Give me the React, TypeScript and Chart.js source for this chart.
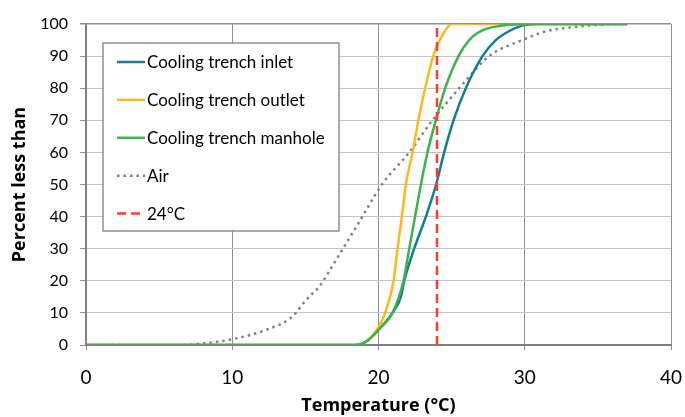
import React, { useEffect, useRef } from "react";
import { Chart, registerables } from "chart.js";
Chart.register(...registerables);

// ---- data (temperature °C vs cumulative percent) ----
const inletT = [0, 18.4, 19.14, 20.05, 20.96, 21.53, 21.76, 22.44, 23.24, 23.94, 24.49, 25.13, 25.97, 27.11, 28.02, 28.7, 29.84, 30.76, 37];
const inletP = [0, 0, 1, 5, 10, 15, 20, 30, 40, 50, 60, 70, 80, 90, 95, 97.2, 99.5, 100, 100];

const outletT = [0, 18.6, 19.14, 19.93, 20.46, 21.03, 21.3, 21.6, 21.87, 22.33, 22.73, 23.19, 23.74, 24.2, 24.72, 25.02, 37];
const outletP = [0, 0, 1, 5, 10, 20, 30, 40, 50, 60, 70, 80, 90, 95, 99, 100, 100];

const manholeT = [0, 18.5, 19.14, 20.05, 20.96, 21.71, 22.1, 22.5, 22.9, 23.35, 23.92, 24.56, 25.47, 26.2, 27.1, 28.46, 30.07, 37];
const manholeP = [0, 0, 1, 5, 10, 20, 30, 40, 50, 60, 70, 80, 90, 95, 98, 99.5, 100, 100];

const airT = [0, 6.6, 8, 10, 12.3, 14.1, 15.04, 16.0, 16.7, 17.3, 17.9, 18.68, 20.23, 22.1, 23.69, 25.52, 27.57, 29.84, 31.44, 33.7, 36.5, 37];
const airP = [0, 0, 0.5, 1.8, 4.7, 8.8, 14, 18.5, 23.5, 28, 32.5, 38.3, 50, 60, 70, 80, 90, 95, 97.7, 99.2, 100, 100];

const refT = [24, 24];
const refP = [0, 100];

const seriesLabels = ["Cooling trench inlet", "Cooling trench outlet", "Cooling trench manhole", "Air", "24°C"];
const xTickValues = [0, 10, 20, 30, 40];
const yTickValues = [0, 10, 20, 30, 40, 50, 60, 70, 80, 90, 100];

const FONT = "Lato, 'Liberation Sans', sans-serif";
const TITLE_FONT = "'Open Sans', 'Liberation Sans', sans-serif";

const pts = (xs: number[], ys: number[]) => xs.map((x, i) => ({ x, y: ys[i] }));

const legendPlugin = {
  id: "insideLegend",
  afterDraw(chart: any) {
    const ctx = chart.ctx as CanvasRenderingContext2D;
    const a = chart.chartArea;
    const bx = a.left + 17, by = a.top + 19, bw = 236, bh = 188;
    ctx.save();
    ctx.fillStyle = "#ffffff";
    ctx.fillRect(bx, by, bw, bh);
    ctx.strokeStyle = "#7f7f7f";
    ctx.lineWidth = 1.3;
    ctx.strokeRect(bx, by, bw, bh);
    chart.data.datasets.forEach((ds: any, i: number) => {
      const cy = by + 19 + i * 37.9;
      ctx.beginPath();
      ctx.setLineDash(ds.borderDash || []);
      ctx.strokeStyle = ds.borderColor;
      ctx.lineWidth = ds.borderWidth;
      ctx.moveTo(bx + 14, cy);
      ctx.lineTo(bx + 42, cy);
      ctx.stroke();
      ctx.setLineDash([]);
      ctx.fillStyle = "#000000";
      ctx.font = `17px ${FONT}`;
      ctx.textBaseline = "middle";
      ctx.textAlign = "left";
      ctx.fillText(ds.label, bx + 44, cy + 1);
    });
    ctx.restore();
  },
};

export default function App() {
  const ref = useRef<HTMLCanvasElement | null>(null);
  useEffect(() => {
    if (!ref.current) return;
    const common = { pointRadius: 0, pointHoverRadius: 0, fill: false, showLine: true };
    const chart = new Chart(ref.current, {
      type: "scatter",
      data: {
        datasets: [
          { ...common, label: seriesLabels[0], data: pts(inletT, inletP), borderColor: "#10808f", borderWidth: 2.5, cubicInterpolationMode: "monotone", order: 3 },
          { ...common, label: seriesLabels[1], data: pts(outletT, outletP), borderColor: "#ffb81c", borderWidth: 2.5, cubicInterpolationMode: "monotone", order: 2 },
          { ...common, label: seriesLabels[2], data: pts(manholeT, manholeP), borderColor: "#3cb44b", borderWidth: 2.5, cubicInterpolationMode: "monotone", order: 1 },
          { ...common, label: seriesLabels[3], data: pts(airT, airP), borderColor: "#808080", borderWidth: 2.5, borderDash: [2.5, 4], cubicInterpolationMode: "monotone", order: 4 },
          { ...common, label: seriesLabels[4], data: pts(refT, refP), borderColor: "#ff3d26", borderWidth: 2.5, borderDash: [9, 5], order: 0 },
        ] as any,
      },
      options: {
        responsive: false,
        animation: false,
        layout: { padding: { left: 0, top: 24, right: 14, bottom: 0 } },
        plugins: { legend: { display: false }, tooltip: { enabled: false } },
        scales: {
          x: {
            type: "linear",
            min: 0,
            max: 40,
            afterFit: (s: any) => { s.height = 72; s.paddingLeft = 0; s.paddingRight = 0; },
            afterBuildTicks: (s: any) => { s.ticks = xTickValues.map((v) => ({ value: v })); },
            ticks: { color: "#000", font: { family: FONT, size: 19 }, padding: 16, maxRotation: 0 },
            grid: { color: "#8f8f8f", lineWidth: 1, tickLength: 5, tickColor: "#8f8f8f" },
            border: { color: "#808080", width: 2 },
            title: { display: true, text: "Temperature (°C)", color: "#000", font: { family: TITLE_FONT, size: 18, weight: "bold" }, padding: { top: 0, bottom: 0 } },
          },
          y: {
            type: "linear",
            min: 0,
            max: 100,
            afterFit: (s: any) => { s.width = 86; s.paddingTop = 0; s.paddingBottom = 0; },
            afterBuildTicks: (s: any) => { s.ticks = yTickValues.map((v) => ({ value: v })); },
            ticks: { color: "#000", font: { family: FONT, size: 16 }, padding: 12 },
            grid: {
              color: (c: any) => (c.tick && c.tick.value === 100 ? "#8f8f8f" : "#c4c4c4"),
              lineWidth: (c: any) => (c.tick && c.tick.value === 100 ? 1.5 : 1),
              tickLength: 6,
              tickColor: "#8f8f8f",
            },
            border: { color: "#808080", width: 2 },
            title: { display: true, text: "Percent less than", color: "#000", font: { family: TITLE_FONT, size: 18, weight: "bold" }, padding: { top: 9, bottom: 0 } },
          },
        },
      } as any,
      plugins: [legendPlugin],
    });
    return () => chart.destroy();
  }, []);
  return (
    <div style={{ position: "absolute", left: 0, top: 0, width: 685, height: 417, background: "#fff" }}>
      <canvas ref={ref} width={685} height={417} style={{ display: "block" }} />
    </div>
  );
}
